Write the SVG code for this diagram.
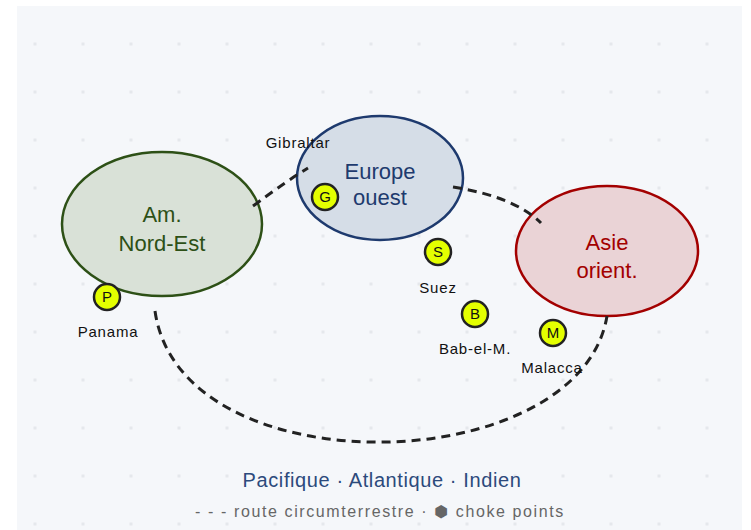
<svg xmlns="http://www.w3.org/2000/svg" width="751" height="530" viewBox="0 0 751 530">
<defs>
<pattern id="dots" x="0" y="0" width="48" height="48" patternUnits="userSpaceOnUse">
<rect x="33.5" y="42.5" width="3" height="3" fill="#e5e8ec"/>
</pattern>
<style>
.region{stroke-width:2.5}
.rlabel{font-family:"Liberation Sans",Arial,sans-serif;font-size:22px;text-anchor:middle}
.choke circle{fill:#e4ff00;stroke:#222;stroke-width:2.5}
.choke text.k{font-family:"Liberation Sans",Arial,sans-serif;font-size:15px;text-anchor:middle;fill:#111}
.clabel{font-family:"Liberation Sans",Arial,sans-serif;font-size:15px;letter-spacing:0.8px;text-anchor:middle;fill:#111}
.route{fill:none;stroke:#222;stroke-width:3;stroke-dasharray:9 6}
</style>
</defs>
<rect width="751" height="530" fill="#ffffff"/>
<rect x="17" y="6" width="725" height="524" fill="#f5f7fa"/>
<rect x="17" y="6" width="725" height="524" fill="url(#dots)"/>

<g id="am">
<ellipse class="region" cx="162" cy="224" rx="100" ry="72" fill="#d9e1d7" stroke="#2d5016"/>
<text class="rlabel" x="162" y="222" fill="#2d5016">Am.</text>
<text class="rlabel" x="162" y="251" fill="#2d5016">Nord-Est</text>
</g>
<g id="europe">
<ellipse class="region" cx="380" cy="178" rx="83" ry="62" fill="#d5dde7" stroke="#1e3a6e"/>
<text class="rlabel" x="380" y="179" fill="#1e3a6e">Europe</text>
<text class="rlabel" x="380" y="205" fill="#1e3a6e">ouest</text>
</g>
<g id="asie">
<ellipse class="region" cx="607" cy="251" rx="91" ry="65" fill="#ead3d6" stroke="#a30000"/>
<text class="rlabel" x="607" y="250" fill="#a30000">Asie</text>
<text class="rlabel" x="607" y="278" fill="#a30000">orient.</text>
</g>

<g id="connectors">
<path class="route" d="M253,206 Q288,180 308,168"/>
<path class="route" d="M453,187 Q515,197 541,223"/>
<path class="route" d="M155,311 C180,490 580,480 607,316"/>
</g>

<g id="gibraltar" class="choke">
<circle cx="325" cy="197" r="13"/>
<text class="k" x="325" y="202">G</text>
<text class="clabel" x="298" y="148">Gibraltar</text>
</g>
<g id="panama" class="choke">
<circle cx="107" cy="297" r="13"/>
<text class="k" x="107" y="302">P</text>
<text class="clabel" x="108" y="337">Panama</text>
</g>
<g id="suez" class="choke">
<circle cx="438" cy="252" r="13"/>
<text class="k" x="438" y="257">S</text>
<text class="clabel" x="438" y="293">Suez</text>
</g>
<g id="babelm" class="choke">
<circle cx="475" cy="314" r="13"/>
<text class="k" x="475" y="319">B</text>
<text class="clabel" x="475" y="354">Bab-el-M.</text>
</g>
<g id="malacca" class="choke">
<circle cx="553" cy="333" r="13"/>
<text class="k" x="553" y="338">M</text>
<text class="clabel" x="552" y="373">Malacca</text>
</g>

<g id="legend">
<text x="382" y="487" font-family="Liberation Sans,Arial,sans-serif" font-size="20" letter-spacing="0.6" text-anchor="middle" fill="#2c4a7c">Pacifique · Atlantique · Indien</text>
<text x="380" y="517" font-family="Liberation Sans,DejaVu Sans,sans-serif" font-size="16" letter-spacing="1.6" text-anchor="middle" fill="#666">- - - route circumterrestre · ⬢ choke points</text>
</g>
</svg>
